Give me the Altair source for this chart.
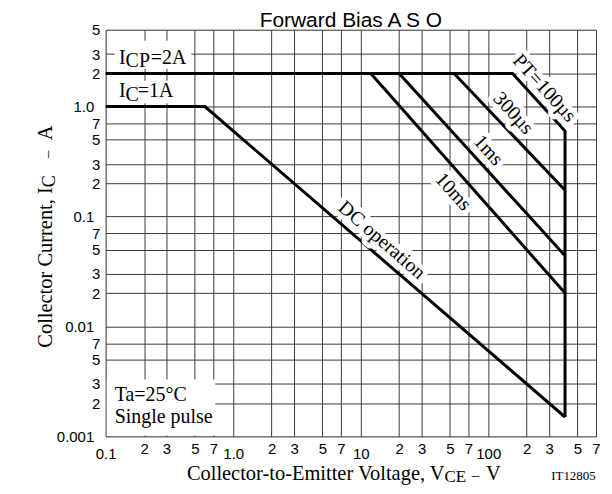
import altair as alt
import pandas as pd

# ---------------- data ----------------
X_TICKS = [0.1, 0.2, 0.3, 0.5, 0.7, 1, 2, 3, 5, 7, 10, 20, 30, 50, 70,
           100, 200, 300, 500, 700]
Y_TICKS = [0.001, 0.002, 0.003, 0.005, 0.007, 0.01, 0.02, 0.03, 0.05, 0.07,
           0.1, 0.2, 0.3, 0.5, 0.7, 1, 2, 3, 5]
X_DECADES = [0.1, 1, 10, 100]
X_DECADE_LABELS = ["0.1", "1.0", "10", "100"]
Y_DECADES = [0.001, 0.01, 0.1, 1]
Y_DECADE_LABELS = ["0.001", "0.01", "0.1", "1.0"]

# SOA boundary curves (VCE in V, IC in A)
series = ["envelope", "envelope", "envelope", "envelope",
          "dc", "dc", "dc",
          "10ms", "10ms",
          "1ms", "1ms",
          "300us", "300us"]
vce = [0.1, 155, 400, 400,
       0.1, 0.6, 400,
       12, 400,
       20, 400,
       54, 400]
ic = [2, 2, 0.6, 0.0015,
      1, 1, 0.0015,
      2, 0.0201,
      2, 0.044,
      2, 0.173]
order = [0, 1, 2, 3, 0, 1, 2, 0, 1, 0, 1, 0, 1]

# rotated curve labels
lab_text = ["PT=100µs", "300µs", "1ms", "10ms", "DC operation"]
lab_x = [275, 157, 100, 53, 14.6]
lab_y = [1.47, 0.87, 0.40, 0.168, 0.061]
lab_angle = [47.7, 47.7, 47.7, 47.7, 41]

# white knock-out boxes behind horizontal notes
box_x1 = [0.1176, 0.1176, 0.102]
box_x2 = [0.47, 0.392, 0.724]
box_y1 = [2.21, 1.07, 0.00102]
box_y2 = [3.97, 1.72, 0.00329]

curves = pd.DataFrame({"series": series, "vce": vce, "ic": ic, "order": order})
labels = pd.DataFrame({"text": lab_text, "vce": lab_x, "ic": lab_y, "angle": lab_angle})
boxes = pd.DataFrame({"x1": box_x1, "x2": box_x2, "y1": box_y1, "y2": box_y2})

SERIF = "Liberation Serif"
SANS = "Liberation Sans"

xscale = alt.Scale(type="log", domain=[0.1, 700], nice=False)
yscale = alt.Scale(type="log", domain=[0.001, 5], nice=False)


def label_expr(decades, dec_labels):
    e = ""
    for d, l in zip(decades, dec_labels):
        e += f"datum.value == {d} ? '{l}' : "
    e += "format(datum.value / pow(10, floor(log(datum.value) / LN10 + 1e-9)), '.0f')"
    return e


def decade_test(decades):
    return " || ".join(f"datum.value == {d}" for d in decades)


def make_axis(values, decades, dec_labels, pad_dec, pad_other):
    return alt.Axis(
        values=values,
        labelExpr=label_expr(decades, dec_labels),
        grid=True, gridColor="#3c3c3c", gridWidth=1,
        ticks=False, domain=False,
        labelFont=SANS, labelFontSize=15, labelColor="black",
        labelPadding={"condition": {"test": decade_test(decades), "value": pad_dec},
                      "value": pad_other},
        labelFlush=False, labelOverlap=False, title=None,
    )


xaxis = make_axis(X_TICKS, X_DECADES, X_DECADE_LABELS, 10, 5)
yaxis = make_axis(Y_TICKS, Y_DECADES, Y_DECADE_LABELS, 12, 6)

base_x = alt.X("vce:Q", scale=xscale, axis=xaxis)
base_y = alt.Y("ic:Q", scale=yscale, axis=yaxis)

box_layer = alt.Chart(boxes).mark_rect(fill="white", stroke=None).encode(
    x=alt.X("x1:Q", scale=xscale, axis=xaxis),
    x2="x2:Q",
    y=alt.Y("y1:Q", scale=yscale, axis=yaxis),
    y2="y2:Q",
)

curve_layer = alt.Chart(curves).mark_line(
    color="black", strokeWidth=3, strokeJoin="miter", strokeCap="butt"
).encode(x=base_x, y=base_y, detail="series:N", order="order:Q")

halo_layer = alt.Chart(labels).mark_text(
    font=SERIF, fontSize=20, fill="white", stroke="white", strokeWidth=10,
    strokeJoin="round", align="center", baseline="middle"
).encode(x=base_x, y=base_y, text="text:N", angle=alt.Angle("angle:Q", scale=None))

text_layer = alt.Chart(labels).mark_text(
    font=SERIF, fontSize=20, color="black", align="center", baseline="middle"
).encode(x=base_x, y=base_y, text="text:N", angle=alt.Angle("angle:Q", scale=None))


def data_piece(txt, xv, yv, dx=0, dy=0, size=20):
    return alt.Chart(pd.DataFrame({"vce": [xv], "ic": [yv]})).mark_text(
        text=txt, font=SERIF, fontSize=size, color="black", align="left",
        baseline="alphabetic", dx=dx, dy=dy
    ).encode(x=base_x, y=base_y)


def px_piece(txt, px, py, align="left", dy=0, size=20.5, angle=0, font=SERIF):
    kw = dict(text=txt, font=font, fontSize=size, color="black", align=align,
              baseline="alphabetic", dy=dy)
    if angle:
        kw["angle"] = angle
    return alt.Chart(alt.Data(values=[{}])).mark_text(**kw).encode(
        x=alt.value(px), y=alt.value(py))


notes = [
    data_piece("I", 0.127, 2.443),
    data_piece("CP", 0.127, 2.443, dx=6.7, dy=3.5),
    data_piece("=2A", 0.127, 2.443, dx=32),
    data_piece("I", 0.127, 1.216),
    data_piece("C", 0.127, 1.216, dx=6.7, dy=3.5),
    data_piece("=1A", 0.127, 1.216, dx=19),
    data_piece("Ta=25°C", 0.1176, 0.00209),
    data_piece("Single pulse", 0.1176, 0.00133),
]

# chart title and axis titles with subscripts (pixels relative to plot area)
titles = [
    px_piece("Forward Bias A S O", 246, -2.5, align="center", size=21, font=SANS),
    px_piece("Collector-to-Emitter Voltage, V", 340, 451.5, align="right", size=20.5),
    px_piece("CE", 340, 451.5, dy=2.5, size=17),
    px_piece("–", 371, 451.5, align="center", size=15),
    px_piece("V", 381.5, 451.5),
    px_piece("IT12805", 447, 451.5, size=13),
    px_piece("Collector Current, I", -54, 158, align="right", angle=270),
    px_piece("C", -54, 158, dy=3.5, size=18, angle=270),
    px_piece("–", -54, 125, align="center", size=15, angle=270),
    px_piece("A", -54, 111, angle=270),
]

chart = alt.layer(
    box_layer, curve_layer, halo_layer, text_layer, *notes, *titles
).properties(
    width=492, height=408,
    autosize=alt.AutoSizeParams(type="none"),
    padding={"left": 98, "top": 21, "right": 8, "bottom": 49},
).configure_view(stroke="#333333", strokeWidth=1.5).configure(background="white")

chart.save("out.html", embed_options={"renderer": "svg", "actions": False})
